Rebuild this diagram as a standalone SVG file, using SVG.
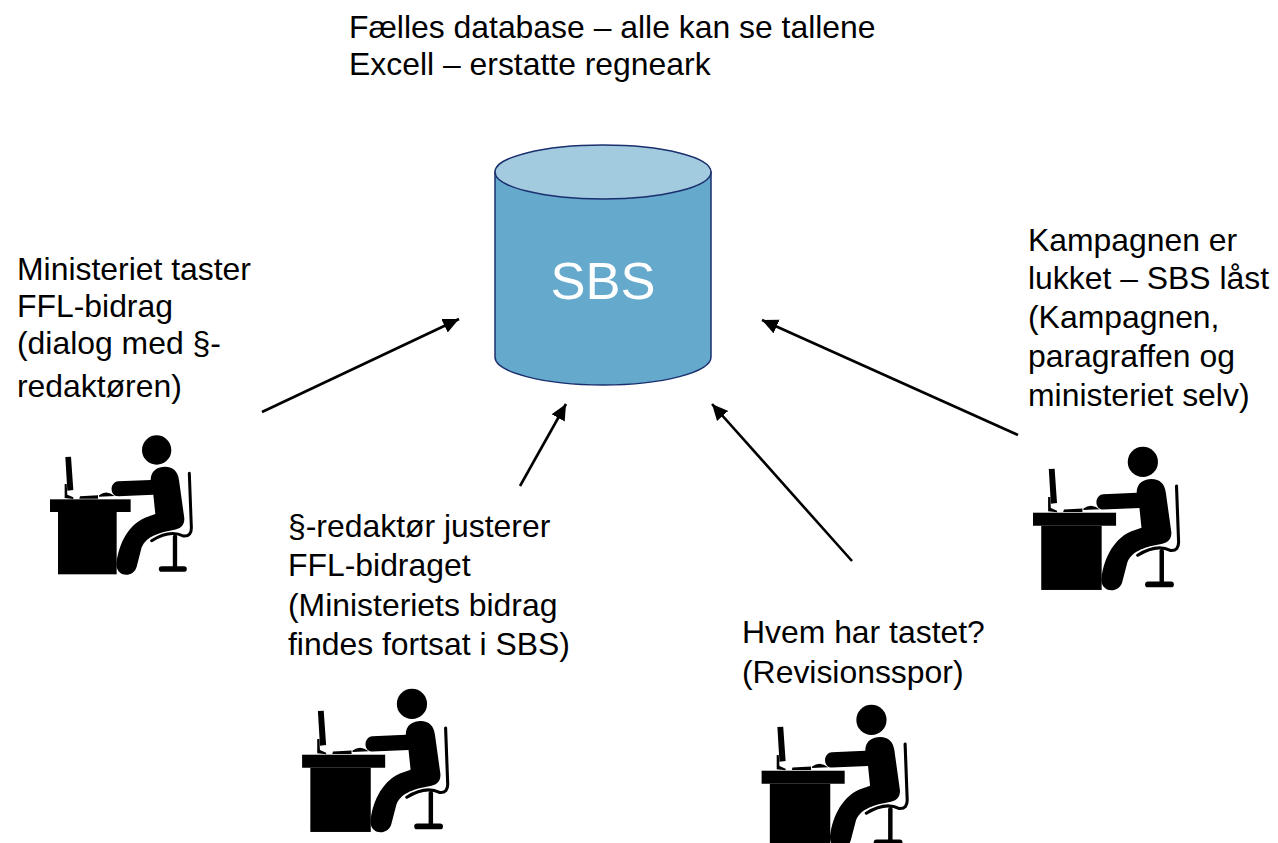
<svg xmlns="http://www.w3.org/2000/svg" width="1278" height="843" viewBox="0 0 1278 843">
<style>
text{font-family:"Liberation Sans",Arial,sans-serif;font-size:31.9px;fill:#000}
.c{fill:none;stroke:#000;stroke-width:2.6;marker-end:url(#a)}
.db{fill:#65a9cd;stroke:#1a2f6e;stroke-width:1.5}
</style>
<defs>
<marker id="a" markerUnits="userSpaceOnUse" markerWidth="18" markerHeight="16" refX="16" refY="8" orient="auto"><path d="M0 .5L16 8L0 15.5Z" fill="#000"/></marker>
<g id="p" transform="scale(.3333)">
<path d="M106 111L123 110L130 210L112 212ZM104 192L110 192L112 224L130 232L130 237L104 234Z"/>
<path d="M150 229L204 226L204 236L148 236ZM207 226Q230 208 254 228L207 230Z"/>
<rect x="60" y="238" width="242" height="38"/><rect x="84" y="276" width="176" height="187"/>
<circle cx="380" cy="90" r="44"/>
<path d="M362 180C362 150 385 140 405 140C430 140 444 155 447 180L463 295C464 318 450 327 430 330C392 337 350 347 335 382L320 440C312 472 262 474 259 435C263 385 288 318 345 293L376 282L370 224L265 229C238 229 238 186 265 184Z"/>
<g fill="none" stroke="#000" stroke-linecap="round"><path d="M478 160L484 320Q486 350 460 348Q420 328 365 362" stroke-width="9"/><path d="M435 350V445" stroke-width="13"/><path d="M395 447H462" stroke-width="17"/></g>
</g>
</defs>
<g id="connectors">
<line class="c" x1="262" y1="412" x2="459" y2="319"/>
<line class="c" x1="520" y1="486" x2="566" y2="404"/>
<line class="c" x1="852" y1="561" x2="712" y2="404"/>
<line class="c" x1="1018" y1="435" x2="762" y2="320"/>
</g>
<g id="database">
<path class="db" d="M495 172V357C495 372 543 385 603 385C663 385 711 372 711 357V172Z"/>
<ellipse cx="603" cy="172" rx="108" ry="27" fill="#a3cbdf" stroke="#1a2f6e" stroke-width="1.5"/>
<text x="603" y="299" text-anchor="middle" style="font-size:52.5px;fill:#fff">SBS</text>
</g>
<g id="title"><text x="349" y="38">Fælles database – alle kan se tallene</text><text x="349" y="75">Excell – erstatte regneark</text></g>
<g id="node1"><use href="#p" transform="translate(30 420)"/>
<text x="17" y="280">Ministeriet taster</text><text x="17" y="317">FFL-bidrag</text><text x="17" y="354">(dialog med §-</text><text x="17" y="397">redaktøren)</text></g>
<g id="node2"><use href="#p" transform="translate(281.5 673) scale(1.03)"/>
<text x="288" y="537">§-redaktør justerer</text><text x="288" y="576">FFL-bidraget</text><text x="288" y="616">(Ministeriets bidrag</text><text x="288" y="655">findes fortsat i SBS)</text></g>
<g id="node3"><use href="#p" transform="translate(741 689) scale(1.03)"/>
<text x="742" y="643">Hvem har tastet?</text><text x="742" y="683">(Revisionsspor)</text></g>
<g id="node4"><use href="#p" transform="translate(1012.4 431) scale(1.03)"/>
<text x="1028" y="251">Kampagnen er</text><text x="1028" y="289">lukket – SBS låst</text><text x="1028" y="328">(Kampagnen,</text><text x="1028" y="367">paragraffen og</text><text x="1028" y="406">ministeriet selv)</text></g>
</svg>
